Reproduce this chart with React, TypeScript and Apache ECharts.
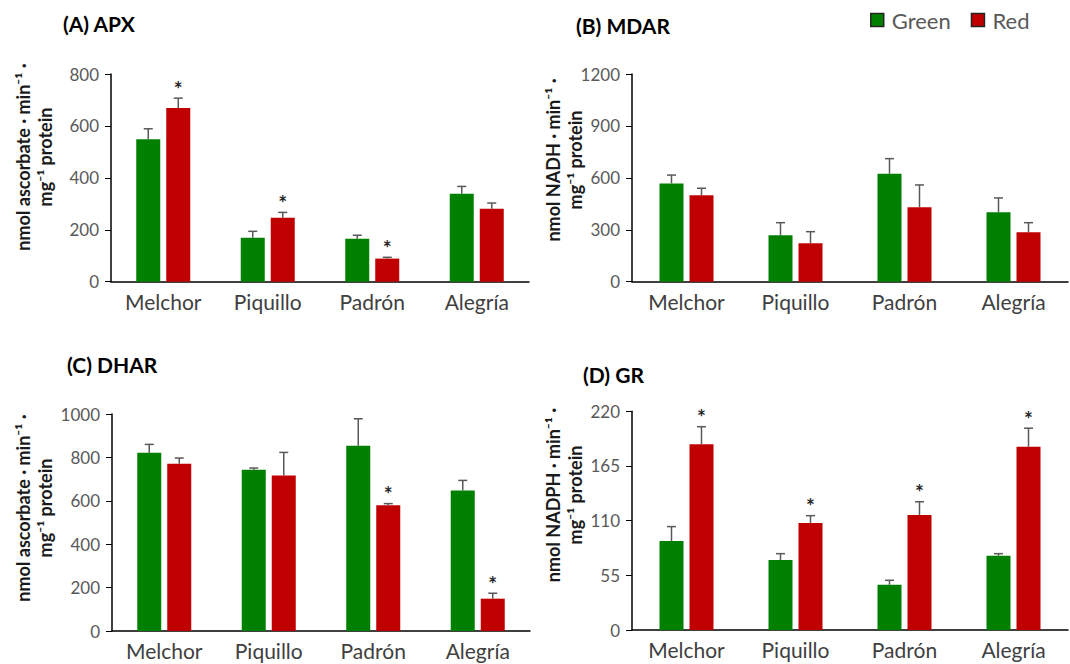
import React, { useEffect, useRef } from "react";
import * as echarts from "echarts";

const categories = ["Melchor", "Piquillo", "Padrón", "Alegría"];

const apxGreen = [549, 169, 165, 339];
const apxGreenErr = [40, 25, 14, 28];
const apxRed = [669, 246, 89, 281];
const apxRedErr = [38, 21, 5, 22];
const apxRedSig = [1, 1, 1, 0];

const mdarGreen = [568, 268, 624, 401];
const mdarGreenErr = [48, 73, 87, 83];
const mdarRed = [499, 222, 430, 285];
const mdarRedErr = [41, 67, 129, 56];
const mdarRedSig = [0, 0, 0, 0];

const dharGreen = [821, 743, 854, 648];
const dharGreenErr = [39, 8, 124, 46];
const dharRed = [771, 717, 579, 149];
const dharRedErr = [26, 106, 8, 25];
const dharRedSig = [0, 0, 1, 1];

const grGreen = [89.5, 70.4, 45.6, 74.7];
const grGreenErr = [14.5, 6.4, 4.4, 2.1];
const grRed = [186.8, 107.6, 115.7, 184.4];
const grRedErr = [17.7, 7.4, 13.3, 18.6];
const grRedSig = [1, 1, 1, 1];

const noSig = [0, 0, 0, 0];

const panelTitles = ["(A) APX", "(B) MDAR", "(C) DHAR", "(D) GR"];
const yNames = [
  "nmol ascorbate · min⁻¹ ·\nmg⁻¹ protein",
  "nmol NADH · min⁻¹ ·\nmg⁻¹ protein",
  "nmol ascorbate · min⁻¹ ·\nmg⁻¹ protein",
  "nmol NADPH · min⁻¹ ·\nmg⁻¹ protein",
];
const yMax = [800, 1200, 1000, 220];
const yStep = [200, 300, 200, 55];

const FONT = "Lato";
const GREEN = "#008000";
const RED = "#C00000";
const ERR = "#595959";

const grids = [
  { left: 111, top: 74, width: 418, height: 207.7 },
  { left: 632, top: 74, width: 436, height: 207.7 },
  { left: 112, top: 414, width: 418, height: 217 },
  { left: 632, top: 411.3, width: 436, height: 218.7 },
];
const titlePos = [
  { left: 63, top: 13 },
  { left: 576, top: 15 },
  { left: 67, top: 354 },
  { left: 583, top: 364 },
];
const yNamePos = [
  { x: 33.6, y: 157 },
  { x: 563.6, y: 160 },
  { x: 33.6, y: 508 },
  { x: 563.6, y: 495 },
];

const BAR_W = 24;
const BAR_GAP = 6;
const OFF = (BAR_W + BAR_GAP) / 2;

function errSeries(
  idx: number,
  vals: number[],
  errs: number[],
  sig: number[],
  offset: number
) {
  return {
    type: "custom",
    name: "err" + idx + "_" + offset,
    xAxisIndex: idx,
    yAxisIndex: idx,
    z: 5,
    silent: true,
    clip: false,
    encode: { x: 0, y: 1 },
    data: vals.map((v, i) => [i, v, errs[i], sig[i]]),
    renderItem: (params: any, api: any) => {
      const i = api.value(0);
      const v = api.value(1);
      const e = api.value(2);
      const s = api.value(3);
      const base = api.coord([i, v]);
      const top = api.coord([i, v + e]);
      const cx = base[0] + offset;
      const children: any[] = [
        {
          type: "line",
          shape: { x1: cx, y1: base[1], x2: cx, y2: top[1] },
          style: { stroke: ERR, lineWidth: 1.5 },
        },
        {
          type: "line",
          shape: { x1: cx - 4.5, y1: top[1], x2: cx + 4.5, y2: top[1] },
          style: { stroke: ERR, lineWidth: 1.5 },
        },
      ];
      if (s) {
        children.push({
          type: "text",
          x: cx,
          y: top[1] - 10,
          style: {
            text: "*",
            fontSize: 21,
            fontWeight: "bold",
            fontFamily: FONT,
            fill: "#262626",
            align: "center",
            verticalAlign: "middle",
          },
        });
      }
      return { type: "group", children };
    },
  };
}

export default function App() {
  const ref = useRef<HTMLDivElement>(null);
  useEffect(() => {
    if (!ref.current) return;
    const chart = echarts.init(ref.current, null, { renderer: "svg" });
    const greens = [apxGreen, mdarGreen, dharGreen, grGreen];
    const greenErrs = [apxGreenErr, mdarGreenErr, dharGreenErr, grGreenErr];
    const reds = [apxRed, mdarRed, dharRed, grRed];
    const redErrs = [apxRedErr, mdarRedErr, dharRedErr, grRedErr];
    const redSigs = [apxRedSig, mdarRedSig, dharRedSig, grRedSig];

    const series: any[] = [];
    for (let k = 0; k < 4; k++) {
      series.push({
        type: "bar",
        name: "Green",
        xAxisIndex: k,
        yAxisIndex: k,
        data: greens[k],
        barWidth: BAR_W,
        barGap: (BAR_GAP / BAR_W) * 100 + "%",
        itemStyle: { color: GREEN },
        silent: true,
      });
      series.push({
        type: "bar",
        name: "Red",
        xAxisIndex: k,
        yAxisIndex: k,
        data: reds[k],
        barWidth: BAR_W,
        barGap: (BAR_GAP / BAR_W) * 100 + "%",
        itemStyle: { color: RED },
        silent: true,
      });
      series.push(errSeries(k, greens[k], greenErrs[k], noSig, -OFF));
      series.push(errSeries(k, reds[k], redErrs[k], redSigs[k], OFF));
    }

    const option: any = {
      animation: false,
      backgroundColor: "#ffffff",
      textStyle: { fontFamily: FONT },
      title: panelTitles.map((t, k) => ({
        text: t,
        left: titlePos[k].left,
        top: titlePos[k].top,
        padding: 0,
        textStyle: {
          fontFamily: FONT,
          fontSize: 21,
          fontWeight: "bold",
          color: "#000000",
        },
      })),
      legend: {
        data: ["Green", "Red"],
        left: 870,
        top: 9,
        padding: 0,
        icon: "rect",
        itemWidth: 13,
        itemHeight: 13,
        itemGap: 20,
        selectedMode: false,
        itemStyle: { borderColor: "#262626", borderWidth: 1.5 },
        textStyle: {
          fontFamily: FONT,
          fontSize: 22,
          color: "#595959",
          padding: [0, 0, 0, 3],
        },
      },
      grid: grids.map((g) => ({ ...g, containLabel: false })),
      xAxis: grids.map((g, k) => ({
        type: "category",
        gridIndex: k,
        data: categories,
        axisLine: { show: true, lineStyle: { color: "#000000", width: 1.5 } },
        axisTick: { show: false },
        axisLabel: {
          fontFamily: FONT,
          fontSize: 21,
          color: "#404040",
          margin: 9,
        },
        splitLine: { show: false },
      })),
      yAxis: grids.map((g, k) => ({
        type: "value",
        gridIndex: k,
        min: 0,
        max: yMax[k],
        interval: yStep[k],
        axisLine: { show: true, lineStyle: { color: "#000000", width: 1.5 } },
        axisTick: {
          show: true,
          length: 6,
          lineStyle: { color: "#000000", width: 1 },
        },
        axisLabel: {
          fontFamily: FONT,
          fontSize: 17,
          color: "#595959",
          margin: 12,
          formatter: (v: number) => String(v),
        },
        splitLine: { show: false },
      })),
      graphic: yNames.map((t, k) => ({
        type: "text",
        x: yNamePos[k].x,
        y: yNamePos[k].y,
        rotation: Math.PI / 2,
        silent: true,
        style: {
          text: t,
          fontFamily: FONT,
          fontSize: 18,
          fontWeight: "bold",
          fill: "#1a1a1a",
          align: "center",
          verticalAlign: "middle",
          lineHeight: 22,
        },
      })),
      series,
    };
    chart.setOption(option);
    return () => chart.dispose();
  }, []);
  return (
    <div
      ref={ref}
      style={{
        position: "fixed",
        left: 0,
        top: 0,
        width: 1070,
        height: 664,
        background: "#fff",
      }}
    />
  );
}
